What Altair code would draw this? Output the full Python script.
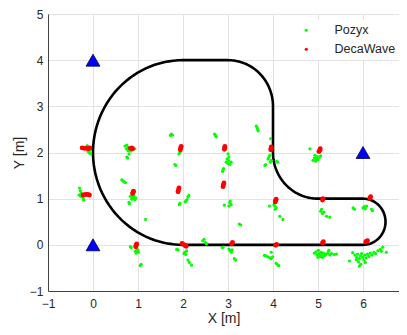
import altair as alt
import pandas as pd
import numpy as np

# ---------------- data ----------------
ANCHOR_X = [0, 0, 6]
ANCHOR_Y = [0, 4, 2]

# track: straight lines and circular arcs (center x, center y, radius, start deg, end deg)
TRACK_SEGMENTS = [
    ("line", 2.0, 0.0, 6.0, 0.0),
    ("arc", 6.0, 0.5, 0.5, -90, 90),
    ("line", 6.0, 1.0, 5.0, 1.0),
    ("arc", 5.0, 2.0, 1.0, 270, 180),
    ("line", 4.0, 2.0, 4.0, 3.0),
    ("arc", 3.0, 3.0, 1.0, 0, 90),
    ("line", 3.0, 4.0, 2.0, 4.0),
    ("arc", 2.0, 2.0, 2.0, 90, 270),
]

DECA_X = [-0.24, -0.19, -0.14, -0.10, -0.07,
          0.83, 0.86, 0.88,
          1.94, 1.95, 1.96,
          2.92, 2.93, 2.93,
          3.95, 3.96, 3.96,
          5.02, 5.04, 5.05,
          -0.22, -0.17, -0.12, -0.08,
          0.88, 0.89, 0.90,
          1.89, 1.90, 1.91,
          2.89, 2.90, 2.91,
          4.05, 4.06, 4.07,
          5.10, 5.11,
          6.15, 6.17,
          0.95, 0.96, 0.97,
          1.98, 2.01, 2.05, 2.07,
          3.08, 3.10,
          4.06, 4.08,
          5.10, 5.12,
          6.06, 6.08, 6.10]
DECA_Y = [2.10, 2.09, 2.09, 2.08, 2.10,
          2.09, 2.10, 2.08,
          2.06, 2.10, 2.13,
          2.07, 2.10, 2.13,
          2.06, 2.09, 2.12,
          2.02, 2.05, 2.08,
          1.08, 1.09, 1.09, 1.08,
          1.11, 1.14, 1.16,
          1.15, 1.19, 1.23,
          1.26, 1.30, 1.34,
          0.93, 0.96, 0.99,
          0.97, 1.00,
          1.01, 1.04,
          -0.04, -0.01, 0.02,
          0.03, 0.01, -0.02, -0.03,
          0.02, 0.05,
          -0.01, 0.01,
          0.04, 0.07,
          0.06, 0.08, 0.09]

POZYX_X = [-0.13, -0.09, -0.06, -0.08, -0.11, -0.05,
           0.71, 0.75, 0.78, 0.81, 0.75, 0.77, 0.93, 0.80, 0.74, 0.78, 0.84,
           1.93, 1.91, 1.95, 1.82, 1.84, 1.74, 1.77, 1.72,
           0.67, 0.64, 0.70, 0.72,
           -0.30, -0.26, -0.22, -0.31, -0.27, -0.24, -0.21, -0.28,
           0.89, 0.93, 0.81, 0.87, 0.91, 0.95, 0.83, 0.86, 0.80,
           2.07, 2.05, 2.09, 1.92, 1.93, 2.13, 2.11,
           1.17,
           0.83, 0.85, 1.00, 0.98, 0.96, 1.01, 0.94, 1.07, 1.05,
           1.89, 1.86, 2.04, 2.06, 2.02, 2.08, 2.11, 2.14, 2.19,
           2.44, 2.47, 2.50, 2.52,
           2.70, 2.74, 2.72,
           3.63, 3.67, 3.65, 3.66,
           3.00, 3.02, 2.96, 3.00, 3.07, 3.01, 2.98, 3.04, 2.89, 2.90, 2.88,
           3.93, 3.89, 3.96, 3.91, 3.94, 4.10, 4.08, 3.82, 3.84, 3.95,
           4.93, 4.96, 4.89, 5.04, 4.98, 4.92, 5.00, 4.95, 5.06, 4.82,
           3.04, 3.07, 2.92, 3.05, 3.02, 3.28, 3.25,
           4.04, 4.07, 4.02, 4.05, 3.92, 4.15, 4.22,
           5.08, 5.13, 5.06, 5.10, 5.19, 5.26,
           5.78, 5.81, 6.00, 6.03, 6.08, 6.05, 6.19, 6.21,
           2.89, 2.87, 3.04, 3.07, 3.02, 3.09, 3.14, 3.17,
           3.81, 3.84, 3.89, 3.96, 3.96, 3.93, 3.99, 4.07, 4.11, 4.13,
           4.92, 4.96, 4.98, 5.01, 5.03, 5.05, 5.07, 5.09, 5.12, 5.15,
           5.18, 5.22, 5.26, 5.30, 5.36, 5.41, 5.24, 5.00, 5.10,
           5.77, 5.82, 5.86, 5.88, 5.92, 5.94, 5.97, 6.00, 6.02, 6.04,
           6.07, 6.10, 6.13, 6.16, 6.20, 6.24, 6.28, 6.33, 6.38, 6.41,
           5.90, 5.95, 5.92, 6.05, 5.85, 5.70, 6.44, 6.52]
POZYX_Y = [2.15, 2.12, 2.05, 1.99, 2.02, 1.97,
           2.14, 2.16, 2.04, 2.08, 1.90, 1.88, 2.08, 1.97, 2.08, 2.11, 2.03,
           2.00, 1.97, 2.03, 1.74, 1.72, 2.40, 2.38, 2.37,
           1.38, 1.41, 1.36, 1.35,
           1.23, 1.12, 1.01, 1.08, 1.05, 1.06, 0.97, 1.17,
           1.01, 0.98, 0.89, 1.04, 1.06, 1.02, 1.05, 0.99, 0.92,
           0.96, 0.93, 0.98, 0.87, 0.90, 1.07, 1.04,
           0.55,
           -0.04, -0.06, -0.12, -0.10, -0.18, -0.16, -0.14, -0.42, -0.45,
           -0.11, -0.10, -0.16, -0.21, -0.19, -0.13, -0.33, -0.38, -0.44,
           0.09, 0.12, 0.05, 0.02,
           2.40, 2.34, 2.37,
           2.57, 2.47, 2.53, 2.50,
           1.97, 1.90, 1.79, 1.76, 1.79, 1.83, 1.86, 1.74, 1.62, 1.65, 1.59,
           1.94, 1.86, 1.83, 1.90, 1.79, 1.79, 1.81, 1.72, 1.74, 2.30,
           1.94, 1.86, 1.83, 1.90, 1.91, 1.88, 1.85, 1.81, 1.93, 2.08,
           0.91, 0.87, 0.86, 0.95, 0.84, 0.43, 0.45,
           0.84, 0.80, 0.87, 0.77, 0.84, 0.62, 0.55,
           0.77, 0.71, 0.73, 0.68, 0.62, 0.60,
           0.80, 0.77, 0.80, 0.83, 0.84, 0.78, 0.77, 0.74,
           -0.05, -0.06, -0.12, -0.16, -0.09, -0.11, -0.30, -0.33,
           -0.23, -0.24, -0.26, -0.16, -0.30, -0.28, -0.26, -0.40, -0.44, -0.45,
           -0.18, -0.15, -0.22, -0.12, -0.19, -0.25, -0.16, -0.21, -0.18, -0.23,
           -0.20, -0.17, -0.22, -0.19, -0.21, -0.20, -0.12, -0.27, -0.27,
           -0.17, -0.22, -0.27, -0.20, -0.30, -0.24, -0.19, -0.27, -0.33, -0.22,
           -0.28, -0.20, -0.25, -0.18, -0.22, -0.16, -0.19, -0.13, -0.10, -0.14,
           -0.37, -0.42, -0.46, -0.38, -0.32, -0.35, -0.05, -0.16]

X_TICKS = [-1, 0, 1, 2, 3, 4, 5, 6]
Y_TICKS = [-1, 0, 1, 2, 3, 4, 5]
SERIES = ["Pozyx", "DecaWave"]
COLORS = ["#00ff00", "#ff0000"]

# ---------------- build tables ----------------
tx, ty = [], []
for seg in TRACK_SEGMENTS:
    if seg[0] == "line":
        _, x0, y0, x1, y1 = seg
        tx += [x0, x1]
        ty += [y0, y1]
    else:
        _, cx, cy, r, a0, a1 = seg
        a = np.radians(np.linspace(a0, a1, 60))
        tx += list(cx + r * np.cos(a))
        ty += list(cy + r * np.sin(a))
track = pd.DataFrame({"x": tx, "y": ty, "i": range(len(tx))})

pozyx = pd.DataFrame({"x": POZYX_X, "y": POZYX_Y, "sys": "Pozyx"})
deca = pd.DataFrame({"x": DECA_X, "y": DECA_Y, "sys": "DecaWave"})
anchors = pd.DataFrame({"x": ANCHOR_X, "y": ANCHOR_Y})

xs = alt.Scale(domain=[-1, 6.8], nice=False, zero=False)
ys = alt.Scale(domain=[-1, 5], nice=False, zero=False)
xax = alt.Axis(values=X_TICKS, format="d", title="X [m]", labelFlush=False)
yax = alt.Axis(values=Y_TICKS, format="d", title="Y [m]", labelFlush=False)

X = alt.X("x:Q", scale=xs, axis=xax)
Y = alt.Y("y:Q", scale=ys, axis=yax)

color = alt.Color("sys:N", scale=alt.Scale(domain=SERIES, range=COLORS),
                  legend=alt.Legend(title=None, orient="none", legendX=238, legendY=6,
                                    fillColor="white", padding=4, rowPadding=6,
                                    symbolType="circle", symbolSize=10,
                                    symbolOffset=10, labelOffset=22,
                                    labelFontSize=12.5, labelFont="Liberation Sans",
                                    labelColor="#262626", symbolStrokeWidth=0))

line = alt.Chart(track).mark_line(color="black", strokeWidth=2.6).encode(
    x=X, y=Y, order="i:Q")

green = alt.Chart(pozyx).mark_circle(size=10, opacity=1).encode(x=X, y=Y, color=color)
red = alt.Chart(deca).mark_circle(size=24, opacity=1).encode(x=X, y=Y, color=color)

tri = alt.Chart(anchors).mark_point(shape="triangle-up", filled=True, fill="#0000ff",
                                    stroke="#000040", strokeWidth=0.8, size=190,
                                    opacity=1).encode(x=X, y=Y)

chart = alt.layer(line, green, red, tri).properties(
    width=351, height=277,
    autosize=alt.AutoSizeParams(type="none"),
    padding={"left": 40, "top": 6, "right": 0, "bottom": 36},
).configure_view(stroke=None).configure_axis(
    grid=True, gridColor="#e3e3e3", gridWidth=1,
    domainColor="#404040", domainWidth=1,
    ticks=False, labelFont="Liberation Sans", labelFontSize=12,
    labelColor="#262626", titleFont="Liberation Sans", titleFontSize=14,
    titleFontWeight="normal", titleColor="#262626",
).configure_axisX(labelPadding=7, titlePadding=2).configure_axisY(
    labelPadding=5, titlePadding=3)

chart.save("out.html", embed_options={"renderer": "svg", "actions": False})
